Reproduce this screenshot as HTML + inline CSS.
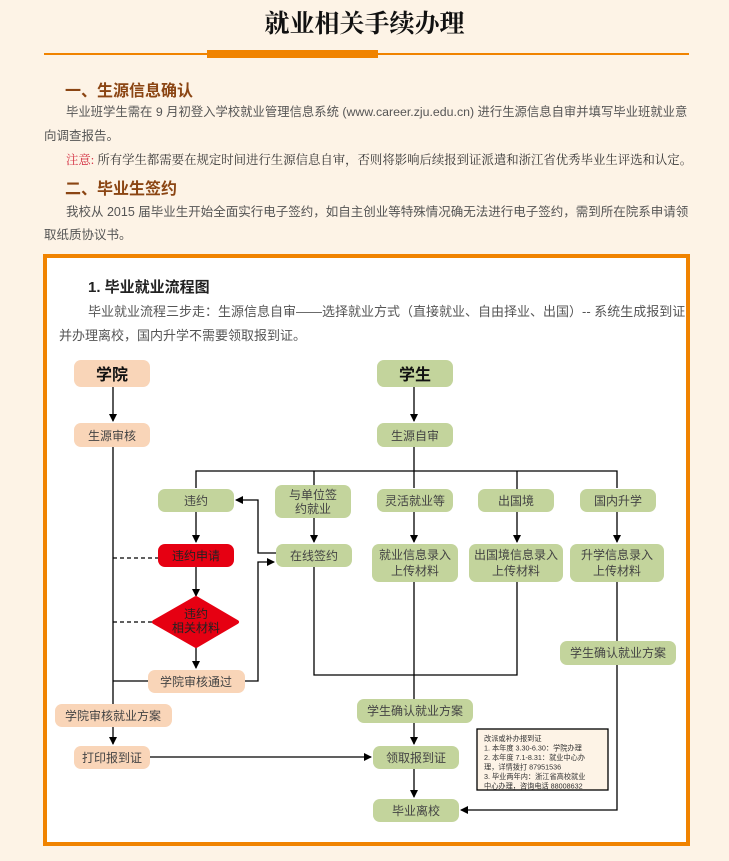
<!DOCTYPE html>
<html><head><meta charset="utf-8"><style>
body{margin:0;width:729px;height:861px;background:#fdf3e6;font-family:"Liberation Sans","Noto Sans CJK SC",sans-serif;position:relative;overflow:hidden;color:#444}
.a{position:absolute;white-space:nowrap}
h1{position:absolute;left:0;width:729px;top:4px;margin:0;text-align:center;font-family:"Liberation Serif","Noto Serif CJK SC",serif;font-size:25px;font-weight:bold;color:#111}
.h{font-size:16px;font-weight:bold;color:#8b4513}
.p{font-size:12.5px;color:#555}
</style></head><body>
<h1>就业相关手续办理</h1>
<div class="a" style="left:44px;top:53px;width:645px;height:1.5px;background:#f08300"></div>
<div class="a" style="left:207px;top:50px;width:171px;height:8px;background:#f08300"></div>
<div class="a h" style="left:65px;top:77px">一、生源信息确认</div>
<div class="a p" style="left:66px;top:102px;font-size:12.35px">毕业班学生需在 9 月初登入学校就业管理信息系统 (www.career.zju.edu.cn) 进行生源信息自审并填写毕业班就业意</div>
<div class="a p" style="left:44px;top:125px">向调查报告。</div>
<div class="a p" style="left:66px;top:150px;font-size:12.4px;font-family:'Liberation Serif','Noto Serif CJK SC',serif;color:#333"><span style="color:#d2283c">注意:</span> 所有学生都需要在规定时间进行生源信息自审，否则将影响后续报到证派遣和浙江省优秀毕业生评选和认定。</div>
<div class="a h" style="left:65px;top:175px">二、毕业生签约</div>
<div class="a p" style="left:66px;top:201px">我校从 2015 届毕业生开始全面实行电子签约，如自主创业等特殊情况确无法进行电子签约，需到所在院系申请领</div>
<div class="a p" style="left:44px;top:224px">取纸质协议书。</div>
<div class="a" style="left:43px;top:254px;width:639px;height:584px;border:4px solid #f08300;background:#fff"></div>
<div class="a" style="left:88px;top:276px;font-size:15px;font-weight:bold;color:#222">1. 毕业就业流程图</div>
<div class="a p" style="left:88px;top:301px;font-size:13px">毕业就业流程三步走：生源信息自审——选择就业方式（直接就业、自由择业、出国）-- 系统生成报到证</div>
<div class="a p" style="left:59px;top:325px;font-size:13px">并办理离校，国内升学不需要领取报到证。</div>
<svg class="a" style="left:0;top:0" width="729" height="861" font-family="Liberation Sans,Noto Sans CJK SC,sans-serif" font-size="12" fill="#444">
<defs><marker id="m" markerWidth="8" markerHeight="8" refX="7" refY="4" orient="auto" markerUnits="userSpaceOnUse"><path d="M0,0L8,4L0,8z" fill="#000"/></marker></defs>
<g stroke="#000" stroke-width="1.3" fill="none">
<path d="M113,387V421" marker-end="url(#m)"/>
<path d="M113,447V704"/>
<path d="M113,727V744" marker-end="url(#m)"/>
<path d="M414,387V421" marker-end="url(#m)"/>
<path d="M414,447V488"/>
<path d="M196,488V471H617V488"/>
<path d="M314,471V485"/><path d="M517,471V489"/>
<path d="M196,512V542" marker-end="url(#m)"/>
<path d="M196,567V596" marker-end="url(#m)"/>
<path d="M196,646V668" marker-end="url(#m)"/>
<path d="M314,518V542" marker-end="url(#m)"/>
<path d="M414,512V542" marker-end="url(#m)"/>
<path d="M517,512V542" marker-end="url(#m)"/>
<path d="M617,512V542" marker-end="url(#m)"/>
<path d="M276,553H258V500H236" marker-end="url(#m)"/>
<path d="M245,681H258V562H274" marker-end="url(#m)"/>
<path d="M148,681H113"/>
<path d="M314,567V675H517V582"/>
<path d="M414,582V699"/>
<path d="M617,582V641"/>
<path d="M617,665V810H461" marker-end="url(#m)"/>
<path d="M414,723V744" marker-end="url(#m)"/>
<path d="M414,769V797" marker-end="url(#m)"/>
<path d="M150,757H371" marker-end="url(#m)"/>
<path d="M113,558H158M113,622H154" stroke-dasharray="4,3"/>
</g>
<g>
<rect x="74" y="360" width="76" height="27" rx="7" fill="#f9d5b8"/>
<rect x="377" y="360" width="76" height="27" rx="7" fill="#c3d49c"/>
<rect x="74" y="423" width="76" height="24" rx="7" fill="#f9d5b8"/>
<rect x="377" y="423" width="76" height="24" rx="7" fill="#c3d49c"/>
<rect x="158" y="489" width="76" height="23" rx="7" fill="#c3d49c"/>
<rect x="275" y="485" width="76" height="33" rx="7" fill="#c3d49c"/>
<rect x="377" y="489" width="76" height="23" rx="7" fill="#c3d49c"/>
<rect x="478" y="489" width="76" height="23" rx="7" fill="#c3d49c"/>
<rect x="580" y="489" width="76" height="23" rx="7" fill="#c3d49c"/>
<rect x="158" y="544" width="76" height="23" rx="7" fill="#e60012"/>
<rect x="276" y="544" width="76" height="23" rx="7" fill="#c3d49c"/>
<rect x="372" y="544" width="86" height="38" rx="7" fill="#c3d49c"/>
<rect x="469" y="544" width="94" height="38" rx="7" fill="#c3d49c"/>
<rect x="570" y="544" width="94" height="38" rx="7" fill="#c3d49c"/>
<path d="M196,598L237,622L196,646L154,622z" fill="#e60012" stroke="#e60012" stroke-width="4" stroke-linejoin="round"/>
<rect x="148" y="670" width="97" height="23" rx="7" fill="#f9d5b8"/>
<rect x="55" y="704" width="117" height="23" rx="7" fill="#f9d5b8"/>
<rect x="74" y="746" width="76" height="23" rx="7" fill="#f9d5b8"/>
<rect x="560" y="641" width="116" height="24" rx="7" fill="#c3d49c"/>
<rect x="357" y="699" width="116" height="24" rx="7" fill="#c3d49c"/>
<rect x="373" y="746" width="86" height="23" rx="7" fill="#c3d49c"/>
<rect x="373" y="799" width="86" height="23" rx="7" fill="#c3d49c"/>
<rect x="477" y="729" width="131" height="61" fill="#fdf3e6" stroke="#000" stroke-width="1.3"/>
</g>
<g text-anchor="middle">
<text x="112" y="380" font-size="16" font-weight="bold" fill="#111">学院</text>
<text x="415" y="380" font-size="16" font-weight="bold" fill="#111">学生</text>
<text x="112" y="440">生源审核</text>
<text x="415" y="440">生源自审</text>
<text x="196" y="505">违约</text>
<text x="313" y="499">与单位签</text><text x="313" y="513">约就业</text>
<text x="415" y="505">灵活就业等</text>
<text x="516" y="505">出国境</text>
<text x="618" y="505">国内升学</text>
<text x="196" y="560" fill="#222">违约申请</text>
<text x="314" y="560">在线签约</text>
<text x="415" y="559">就业信息录入</text><text x="415" y="575">上传材料</text>
<text x="516" y="559">出国境信息录入</text><text x="516" y="575">上传材料</text>
<text x="617" y="559">升学信息录入</text><text x="617" y="575">上传材料</text>
<text x="196" y="618" fill="#222">违约</text><text x="196" y="632" fill="#222">相关材料</text>
<text x="196" y="686">学院审核通过</text>
<text x="113" y="720">学院审核就业方案</text>
<text x="112" y="762">打印报到证</text>
<text x="618" y="657">学生确认就业方案</text>
<text x="415" y="715">学生确认就业方案</text>
<text x="416" y="762">领取报到证</text>
<text x="416" y="815">毕业离校</text>
</g>
<g font-size="7.2" fill="#333">
<text x="484" y="741">改派或补办报到证</text>
<text x="484" y="750.5">1. 本年度 3.30-6.30：学院办理</text>
<text x="484" y="760">2. 本年度 7.1-8.31：就业中心办</text>
<text x="484" y="769.5">理，详情拨打 87951536</text>
<text x="484" y="779">3. 毕业两年内：浙江省高校就业</text>
<text x="484" y="788.5">中心办理，咨询电话 88008632</text>
</g>
</svg>
</body></html>
